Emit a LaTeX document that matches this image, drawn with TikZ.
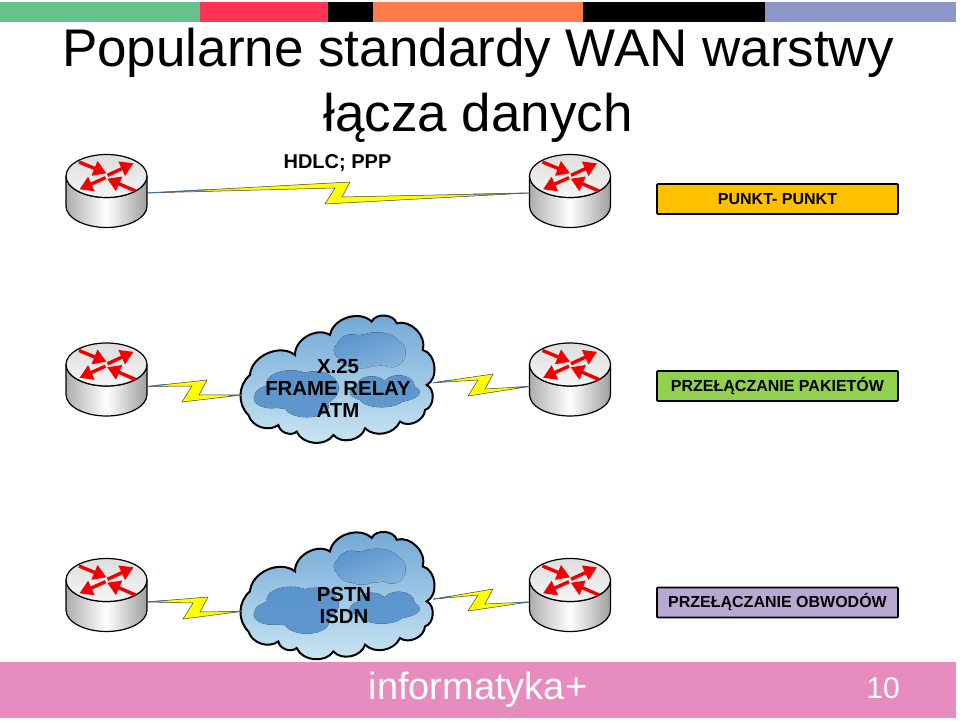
\documentclass[tikz,border=0pt]{standalone}
\usepackage{fontspec}
\setmainfont{Liberation Sans}
\usepackage{tikz}
\usetikzlibrary{arrows.meta,calc}

\definecolor{stripgreen}{HTML}{66C18F}
\definecolor{stripred}{HTML}{FF3355}
\definecolor{striporange}{HTML}{FF7B4A}
\definecolor{stripblue}{HTML}{8C96C8}
\definecolor{bandpink}{HTML}{E78CBE}
\definecolor{boxamber}{HTML}{FFC000}
\definecolor{boxgreen}{HTML}{92D050}
\definecolor{boxlilac}{HTML}{B9A8D2}
\definecolor{wirebolt}{HTML}{3F6FA8}
\definecolor{cloudtop}{HTML}{6FA6D6}
\definecolor{cloudlow}{HTML}{CBE6F2}
\definecolor{puffdark}{HTML}{5A94CC}

\pgfdeclarehorizontalshading{boltfade}{100bp}{
  color(0bp)=(wirebolt); color(38bp)=(yellow); color(62bp)=(yellow); color(100bp)=(wirebolt)}

\tikzset{
  stripbar/.style={draw=none, minimum height=20pt, inner sep=0pt, anchor=north west},
  titletext/.style={font=\fontsize{53}{65}\selectfont, align=center},
  cloudtext/.style={font=\fontsize{20.4}{22}\selectfont\bfseries, align=center},
  kindbox/.style={draw=black, line width=1.6pt, rounded corners=0.8pt, minimum width=241pt,
    minimum height=30pt, inner sep=0pt, font=\fontsize{16}{18}\selectfont\bfseries},
  % router drum, with a port coordinate on its right and left edge
  router/.pic={
    \draw[line width=1.2pt, left color=black!32, right color=black!38, middle color=white]
      (-40.5,0) -- (-40.5,-30) arc[start angle=180, end angle=360, x radius=40.5, y radius=21.5]
      -- (40.5,0) arc[start angle=0, end angle=-180, x radius=40.5, y radius=21.5] -- cycle;
    \draw[line width=1.2pt, top color=black!13, bottom color=black!4] (0,0) ellipse[x radius=40.5, y radius=21.5];
    \foreach \xa/\ya/\xb/\yb in {-27.5/14/0/2.7, 1/0.7/27/12.7, -1/-1.7/-27/-13.3, 29/-15/0.7/-2.7} {
      \draw[red!95!black, line width=3.4pt, -{Triangle[length=13pt, width=15pt]}] (\xa,\ya) -- (\xb,\yb);
    }
    \coordinate (-west) at (-40.5,-22);
    \coordinate (-east) at (40.5,-22);
  },
  % irregular cloud with three darker puffs
  wancloud/.pic={
    \draw[line width=2pt, top color=cloudtop, bottom color=cloudlow]
      (-88.3,-36.7) to[bend left=48] (-86.7,3.3) to[bend left=62] (-41.7,23.3)
      to[bend left=62] (-6.7,43.3) to[bend left=62] (35,56.7) to[bend left=70] (60,55)
      to[bend left=62] (86,28.3) to[bend left=70] (90,-6.7) to[bend left=70] (88.3,-31.7)
      to[bend left=62] (63.3,-43.3) to[bend left=55] (28.3,-50) to[bend left=62] (-3.3,-56.7)
      to[bend left=62] (-40,-53.3) to[bend left=62] (-58.3,-46.7) to[bend left=55] (-88.3,-36.7) -- cycle;
    \fill[top color=puffdark, bottom color=puffdark!45!cloudtop!70!cloudlow, shading angle=20]
      (33,28) ellipse[x radius=36, y radius=16] (15,28) circle[radius=16]
      (40,35) ellipse[x radius=22, y radius=11] (55,25) circle[radius=14]
      (25,18) ellipse[x radius=15, y radius=8];
    \fill[top color=puffdark, bottom color=puffdark!80!cloudtop]
      (-42,-17) ellipse[x radius=40, y radius=14] (-46,-5) ellipse[x radius=24, y radius=13]
      (-22,-10) ellipse[x radius=24, y radius=17] (-65,-20) ellipse[x radius=18, y radius=10]
      (-30,-28) ellipse[x radius=22, y radius=11];
    \fill[top color=puffdark, bottom color=puffdark!70!cloudtop]
      (48,-14) ellipse[x radius=35, y radius=11] (62,-8) ellipse[x radius=16, y radius=11]
      (35,-6) ellipse[x radius=14, y radius=8] (45,-20) ellipse[x radius=22, y radius=9];
    \coordinate (-west) at (-94.7,-16.7);
    \coordinate (-east) at (96.3,-4.5);
  }
}

% wire with a lightning bolt: from, to, top corner of the bolt
\newcommand{\boltlink}[3]{
  \draw[black!70!olive, line width=0.5pt, shading=boltfade]
    (#1) -- (#3) -- ($(#3)+(-8,-15)$) -- (#2) -- ($(#3)+(-25,-22)$) -- ($(#3)+(-15,-6)$) -- cycle;
  \draw[wirebolt, line width=0.9pt] (#1) -- ($(#1)!0.3!(#3)$);
  \draw[wirebolt, line width=0.9pt] (#2) -- ($(#2)!0.3!($(#3)+(-8,-15)$)$);
}

\begin{document}
\begin{tikzpicture}[x=1pt, y=1pt]
    \useasboundingbox (0,0) rectangle (960,720);
    \fill[white] (0,0) rectangle (960,720);

    % Top colour strip
    \node[stripbar, fill=stripgreen, minimum width=200pt] (stripa) at (0,718) {};
    \node[stripbar, fill=stripred, minimum width=128pt] (stripb) at (200,718) {};
    \node[stripbar, fill=black, minimum width=45pt] (stripc) at (328,718) {};
    \node[stripbar, fill=striporange, minimum width=210pt] (stripd) at (373,718) {};
    \node[stripbar, fill=black, minimum width=182pt] (stripe) at (583,718) {};
    \node[stripbar, fill=stripblue, minimum width=191pt] (stripf) at (765,718) {};

    % Title
    \node[titletext] (title) at (478,635) {Popularne standardy WAN warstwy\\łącza danych};

    % Point to point row
    \pic (ra) at (106.5,544) {router};
    \pic (rb) at (570,544) {router};
    \coordinate (porta) at ($(ra-east)+(0,5)$);
    \coordinate (portb) at ($(rb-west)+(0,5)$);
    \coordinate (bolta) at (350,538);
    \boltlink{porta}{portb}{bolta}
    \node[font=\fontsize{20}{22}\selectfont\bfseries] (hdlc) at (337.5,557) {HDLC; PPP};
    \node[kindbox, fill=boxamber] (kinda) at (777.5,521) {PUNKT- PUNKT};

    % Packet switching row
    \pic (rc) at (106.5,355.5) {router};
    \pic (rd) at (570,355.5) {router};
    \pic (cloudx) at (336.7,341.7) {wancloud};
    \node[cloudtext] (xlabel) at (338,332) {X.25\\FRAME RELAY\\ATM};
    \coordinate (boltb) at (207,340);
    \coordinate (boltc) at (493,346);
    \boltlink{rc-east}{cloudx-west}{boltb}
    \boltlink{cloudx-east}{rd-west}{boltc}
    \node[kindbox, fill=boxgreen] (kindb) at (777.5,334) {PRZEŁĄCZANIE PAKIETÓW};

    % Circuit switching row
    \pic (re) at (106.5,140) {router};
    \pic (rf) at (570,140) {router};
    \pic (cloudy) at (336.7,125.3) {wancloud};
    \node[cloudtext] (ylabel) at (344,115) {PSTN\\ISDN};
    \coordinate (boltd) at (208,123);
    \coordinate (bolte) at (493,131);
    \boltlink{re-east}{cloudy-west}{boltd}
    \boltlink{cloudy-east}{rf-west}{bolte}
    \node[kindbox, fill=boxlilac] (kindc) at (777.5,117.5) {PRZEŁĄCZANIE OBWODÓW};

    % Footer band
    \node[draw=none, fill=bandpink, minimum width=956pt, minimum height=56pt, inner sep=0pt, anchor=south west] (band) at (0,2) {};
    \node[font=\fontsize{38}{40}\selectfont, text=white] (brand) at (478,30) {informatyka+};
    \node[font=\fontsize{30}{32}\selectfont, text=white] (pageno) at (883,32) {10};
\end{tikzpicture}
\end{document}
